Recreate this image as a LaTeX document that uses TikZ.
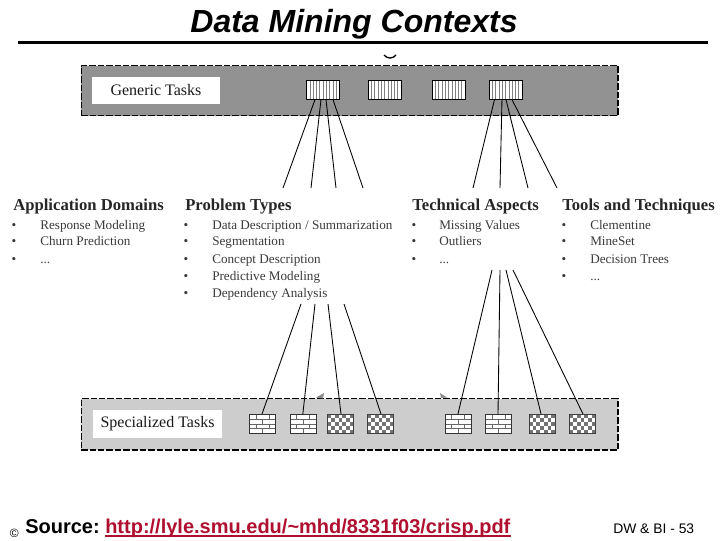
\documentclass[tikz,border=0pt]{standalone}
\usepackage{fontspec}
\setmainfont{Liberation Serif}
\newfontfamily\arialf{Liberation Sans}
\definecolor{bandtop}{HTML}{929292}
\definecolor{bandbot}{HTML}{CDCDCD}
\definecolor{linkred}{HTML}{B01030}
\definecolor{itemgray}{HTML}{3A3A3A}
\newcommand{\headitem}[4]{\node[headtxt] (#1) at (#2,#3) {#4};}
\newcommand{\listitem}[5]{\node[bullettxt] (#1b) at (#2,#4) {\textbullet};\node[itemtxt] (#1) at (#3,#4) {#5};}
\tikzset{
  headtxt/.style={anchor=base west,inner sep=0,font=\fontsize{12.5pt}{14pt}\bfseries\selectfont,text=black!85},
  itemtxt/.style={anchor=base west,inner sep=0,font=\fontsize{9.87pt}{11pt}\selectfont,text=itemgray},
  bullettxt/.style={anchor=base,inner sep=0,font=\fontsize{10pt}{11pt}\selectfont,text=itemgray},
  band/.style={draw=black,line width=1pt,dash pattern=on 4.8pt off 1.5pt,anchor=north west,inner sep=0},
  labelbox/.style={fill=white,anchor=center,inner sep=0,font=\fontsize{12pt}{14pt}\selectfont,text=black!90},
  hatchbox/.style={draw=black,line width=.8pt,fill=white,anchor=north west,inner sep=0,minimum width=24.75pt,minimum height=14.25pt,
    path picture={
      \foreach \i in {1,...,9}{\draw[black!50,line width=.45pt] (\i*3.3-16.5,-10) -- (\i*3.3-16.5,10);}
    }},
  brickbox/.style={draw=black!80,line width=.7pt,fill=white,anchor=north west,inner sep=0,minimum width=19.5pt,minimum height=14.25pt,
    path picture={
      \foreach \r in {1,2,3}{\draw[black!60,line width=.45pt] (-13,\r*4.75-9.5) -- (14,\r*4.75-9.5);}
      \foreach \xx in {-6.5,6.5}{\draw[black!60,line width=.45pt] (\xx,-9.5) -- (\xx,-4.75) (\xx,0) -- (\xx,4.75);}
      \foreach \xx in {-13,0,13}{\draw[black!60,line width=.45pt] (\xx,-4.75) -- (\xx,0) (\xx,4.75) -- (\xx,9.5);}
    }},
  checkbox/.style={draw=black!75,line width=.7pt,fill=white,anchor=north west,inner sep=0,minimum width=19.5pt,minimum height=14.25pt,
    path picture={
      \foreach \r in {0,...,4}{\foreach \c in {0,...,6}{
        \pgfmathparse{int(mod(\r+\c,2))}
        \ifnum\pgfmathresult=0 \fill[black!55] (\c*3.72-13,\r*3.8-9.5) rectangle ++(3.72,3.8);\fi}}
    }},
  link/.style={line width=.65pt,black},
  smallmark/.style={fill=black!45,draw=none}
}
\begin{document}
\begin{tikzpicture}[x=.75pt,y=-.75pt]
\useasboundingbox (0,0) rectangle (720,540);
\fill[white] (0,0) rectangle (720,540);
% title
\node[anchor=base,inner sep=0,font=\arialf\fontsize{24pt}{28pt}\bfseries\itshape\selectfont] (title) at (354,32) {Data Mining Contexts};
\coordinate (ruleL) at (18,42.5);
\coordinate (ruleR) at (708,42.5);
\draw[line width=2.6pt] (ruleL) -- (ruleR);
% top band
\node[band,fill=bandtop,minimum width=402.5pt,minimum height=37.5pt] (topband) at (80.5,65) {};
\node[labelbox,minimum width=96pt,minimum height=20pt] (generic) at (156,90.5) {Generic Tasks};
\node[hatchbox] (t1) at (306,79.5) {};
\node[hatchbox] (t2) at (367.5,79.5) {};
\node[hatchbox] (t3) at (431.5,79.5) {};
\node[hatchbox] (t4) at (488.5,79.5) {};
% mark above the band
\coordinate (arcL) at (384,55);
\coordinate (arcR) at (396,55);
\draw[line width=1pt] (arcL) .. controls (387,59) and (393,59) .. (arcR);
% bottom band
\node[band,fill=bandbot,minimum width=402.5pt,minimum height=38.5pt] (botband) at (80.5,398) {};
\node[labelbox,minimum width=96.75pt,minimum height=21pt] (special) at (157.5,424) {Specialized Tasks};
\node[brickbox] (s1) at (249,414) {};
\node[brickbox] (s2) at (289.5,414) {};
\node[checkbox] (s3) at (327,414) {};
\node[checkbox] (s4) at (367,414) {};
\node[brickbox] (s5) at (444.5,414) {};
\node[brickbox] (s6) at (485,414) {};
\node[checkbox] (s7) at (528.5,414) {};
\node[checkbox] (s8) at (569,414) {};
\fill[smallmark] (316,397.5) -- (324,393) -- (323,398.5) -- cycle;
\fill[smallmark] (440,393) -- (447,397.5) -- (441,398) -- cycle;
% free connector ends
\foreach \n/\x/\y in {a1/283/188,a2/311/188,a3/336/188,a4/363/188,
  b1/473/188,b2/500/188,b3/528/188,b4/557/188,
  c1/301/304,c2/315/304,c3/328/304,c4/344/304,
  d1/492/270,d2/500/270,d3/506/270,d4/513/270}{\coordinate (\n) at (\x,\y);}
\draw[link] ([xshift=6.75pt]t1.south west) -- (a1);
\draw[link] ([xshift=11.25pt]t1.south west) -- (a2);
\draw[link] ([xshift=15pt]t1.south west) -- (a3);
\draw[link] ([xshift=20.25pt]t1.south west) -- (a4);
\draw[link] ([xshift=4.5pt]t4.south west) -- (b1);
\draw[link] ([xshift=10.1pt]t4.south west) -- (b2);
\draw[link] ([xshift=13.1pt]t4.south west) -- (b3);
\draw[link] ([xshift=17.6pt]t4.south west) -- (b4);
\draw[link] ([xshift=9.75pt]s1.north west) -- (c1);
\draw[link] ([xshift=10pt]s2.north west) -- (c2);
\draw[link] ([xshift=10.5pt]s3.north west) -- (c3);
\draw[link] ([xshift=10.5pt]s4.north west) -- (c4);
\draw[link] ([xshift=10.1pt]s5.north west) -- (d1);
\draw[link] ([xshift=9.75pt]s6.north west) -- (d2);
\draw[link] ([xshift=9.4pt]s7.north west) -- (d3);
\draw[link] ([xshift=10.5pt]s8.north west) -- (d4);
% columns
\headitem{h1}{13}{210}{Application Domains}
\listitem{i11}{14}{40}{229}{Response Modeling}
\listitem{i12}{14}{40}{245}{Churn Prediction}
\listitem{i13}{14}{40}{263}{...}
\headitem{h2}{185}{210}{Problem Types}
\listitem{i21}{186}{212}{229}{Data Description / Summarization}
\listitem{i22}{186}{212}{245}{Segmentation}
\listitem{i23}{186}{212}{263}{Concept Description}
\listitem{i24}{186}{212}{280}{Predictive Modeling}
\listitem{i25}{186}{212}{297}{Dependency Analysis}
\headitem{h3}{412}{210}{Technical Aspects}
\listitem{i31}{414}{439}{229}{Missing Values}
\listitem{i32}{414}{439}{245}{Outliers}
\listitem{i33}{414}{439}{263}{...}
\headitem{h4}{562}{210}{Tools and Techniques}
\listitem{i41}{564}{590}{229}{Clementine}
\listitem{i42}{564}{590}{245}{MineSet}
\listitem{i43}{564}{590}{263}{Decision Trees}
\listitem{i44}{564}{590}{280}{...}
% footer
\node[anchor=base west,inner sep=0,font=\arialf\fontsize{9pt}{10pt}\selectfont] (copy) at (9.5,537.5) {©};
\node[anchor=base west,inner sep=0,font=\arialf\fontsize{15pt}{18pt}\bfseries\selectfont] (source) at (25,533) {Source:};
\node[anchor=base west,inner sep=0,font=\arialf\fontsize{15pt}{18pt}\bfseries\selectfont,text=linkred] (srcurl) at (105,533) {http://lyle.smu.edu/\string~mhd/8331f03/crisp.pdf};
\draw[linkred,line width=1.1pt] ([yshift=-2.4pt]srcurl.base west) -- ([yshift=-2.4pt]srcurl.base east);
\node[anchor=base west,inner sep=0,font=\arialf\fontsize{10.4pt}{12pt}\selectfont] (page) at (613,533) {DW \& BI - 53};
\end{tikzpicture}
\end{document}
